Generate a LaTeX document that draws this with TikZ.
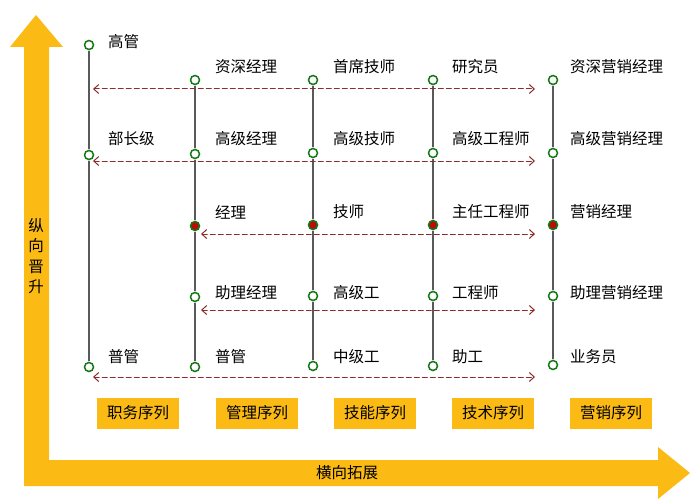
\documentclass[tikz,border=0pt]{standalone}
\usepackage{fontspec}
\setmainfont{Noto Sans CJK SC}
\usetikzlibrary{arrows.meta, positioning}
\definecolor{color1}{RGB}{252,187,20}
\definecolor{color2}{RGB}{140,45,45}
\definecolor{color3}{RGB}{20,120,20}
\definecolor{color4}{RGB}{190,10,10}
\tikzset{
  dot/.style={circle, draw=color3, line width=1.5pt, fill=white, inner sep=0pt, minimum size=9pt},
  hot/.style={dot, fill=color4},
  lab/.style={anchor=west, inner sep=0pt},
  seq/.style={fill=color1, minimum width=82pt, minimum height=31pt, inner sep=0pt},
  rung/.style={line width=1.2pt, draw=black!65, shorten <=1pt, shorten >=1pt},
  move/.style={{Straight Barb[length=5pt,width=9pt]}-{Straight Barb[length=5pt,width=9pt]}, dash pattern=on 5pt off 3pt, line width=1pt, color2}
}
\begin{document}
\begin{tikzpicture}[x=1pt, y=-1pt, font=\fontsize{15.5}{18}\selectfont, line cap=round]
        \useasboundingbox (0,0) rectangle (700,500);
        %\draw [step=10, very thin, lightgray] (0,0) grid (700,500);
        % the big L arrow
        \fill [color1] (10,47) -- (36,15) -- (63,47) -- (49,47) -- (49,460) -- (658,460) -- (658,447) --
        (690,473) -- (658,499) -- (658,486) -- (24,486) -- (24,47) -- cycle;
        \node (up) [align=center, font=\fontsize{15.5}{20.5}\selectfont] at (36,256) {纵\\向\\晋\\升};
        \node (right) at (347,473) {横向拓展};

        % rungs
        \node [dot] (a0) at (89,45) {};
        \node [dot] (a2) at (89,155) {};
        \node [dot] (a5) at (89,367) {};
        \node [dot] (b1) at (195,80) {};
        \node [dot] (b2) at (195,154) {};
        \node [hot] (b3) at (195,226) {};
        \node [dot] (b4) at (195,297) {};
        \node [dot] (b5) at (195,367) {};
        \node [dot] (c1) at (313,80) {};
        \node [dot] (c2) at (313,153) {};
        \node [hot] (c3) at (313,225) {};
        \node [dot] (c4) at (313,296) {};
        \node [dot] (c5) at (313,366) {};
        \node [dot] (d1) at (433,80) {};
        \node [dot] (d2) at (433,153) {};
        \node [hot] (d3) at (433,225) {};
        \node [dot] (d4) at (433,296) {};
        \node [dot] (d5) at (433,366) {};
        \node [dot] (e1) at (553,80) {};
        \node [dot] (e2) at (553,153) {};
        \node [hot] (e3) at (553,225) {};
        \node [dot] (e4) at (553,296) {};
        \node [dot] (e5) at (553,365) {};

        \draw [rung] (a0) -- (a2);
        \draw [rung] (a2) -- (a5);
        \draw [rung] (b1) -- (b2);
        \draw [rung] (b2) -- (b3);
        \draw [rung] (b3) -- (b4);
        \draw [rung] (b4) -- (b5);
        \draw [rung] (c1) -- (c2);
        \draw [rung] (c2) -- (c3);
        \draw [rung] (c3) -- (c4);
        \draw [rung] (c4) -- (c5);
        \draw [rung] (d1) -- (d2);
        \draw [rung] (d2) -- (d3);
        \draw [rung] (d3) -- (d4);
        \draw [rung] (d4) -- (d5);
        \draw [rung] (e1) -- (e2);
        \draw [rung] (e2) -- (e3);
        \draw [rung] (e3) -- (e4);
        \draw [rung] (e4) -- (e5);

        % titles
        \node [lab] (ta0) at (108,42) {高管};
        \node [lab] (ta2) at (108,139) {部长级};
        \node [lab] (ta5) at (108,357) {普管};
        \node [lab] (tb1) at (215,67) {资深经理};
        \node [lab] (tb2) at (215,139) {高级经理};
        \node [lab] (tb3) at (215,212) {经理};
        \node [lab] (tb4) at (215,293) {助理经理};
        \node [lab] (tb5) at (215,357) {普管};
        \node [lab] (tc1) at (333,67) {首席技师};
        \node [lab] (tc2) at (333,139) {高级技师};
        \node [lab] (tc3) at (333,212) {技师};
        \node [lab] (tc4) at (333,293) {高级工};
        \node [lab] (tc5) at (333,357) {中级工};
        \node [lab] (td1) at (452,67) {研究员};
        \node [lab] (td2) at (452,139) {高级工程师};
        \node [lab] (td3) at (452,212) {主任工程师};
        \node [lab] (td4) at (452,293) {工程师};
        \node [lab] (td5) at (452,357) {助工};
        \node [lab] (te1) at (570,67) {资深营销经理};
        \node [lab] (te2) at (570,139) {高级营销经理};
        \node [lab] (te3) at (570,212) {营销经理};
        \node [lab] (te4) at (570,293) {助理营销经理};
        \node [lab] (te5) at (570,357) {业务员};

        % moves across
        \coordinate (m1a) at (93,89);  \coordinate (m1b) at (535,89);
        \coordinate (m2a) at (93,161); \coordinate (m2b) at (535,161);
        \coordinate (m3a) at (201,234); \coordinate (m3b) at (535,234);
        \coordinate (m4a) at (201,310); \coordinate (m4b) at (535,310);
        \coordinate (m5a) at (93,377); \coordinate (m5b) at (535,377);
        \draw [move] (m1a) -- (m1b);
        \draw [move] (m2a) -- (m2b);
        \draw [move] (m3a) -- (m3b);
        \draw [move] (m4a) -- (m4b);
        \draw [move] (m5a) -- (m5b);

        % sequences
        \node [seq] (s1) at (138,413) {职务序列};
        \node [seq] (s2) at (257,413) {管理序列};
        \node [seq] (s3) at (375,413) {技能序列};
        \node [seq] (s4) at (493,413) {技术序列};
        \node [seq] (s5) at (611,413) {营销序列};
    \end{tikzpicture}
\end{document}
